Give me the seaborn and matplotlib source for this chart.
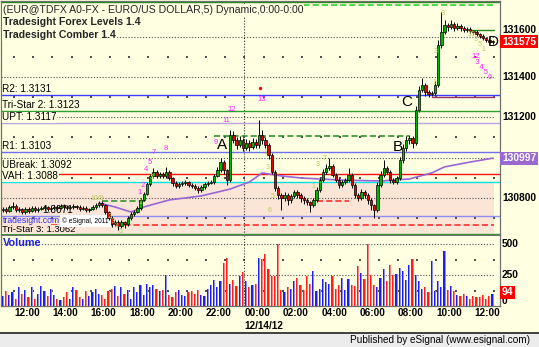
import numpy as np
import matplotlib
matplotlib.use("Agg")
import matplotlib.pyplot as plt
import seaborn as sns
from matplotlib.transforms import blended_transform_factory as btf

# ---------------- data (10-minute bars, prices in points) ----------------
closes = [
    130745, 130735, 130755, 130760, 130740, 130745, 130730, 130745, 130735, 130750,
    130740, 130745, 130750, 130755, 130745, 130750, 130755, 130750, 130760, 130755,
    130750, 130755, 130760, 130755, 130745, 130750, 130740, 130745, 130755, 130765,
    130775, 130765, 130730, 130700, 130671, 130681, 130661, 130681, 130671, 130700,
    130720, 130730, 130750, 130790, 130820, 130869, 130909, 130929, 130909, 130919,
    130909, 130929, 130899, 130874, 130859, 130869, 130874, 130879, 130864, 130859,
    130849, 130840, 130854, 130869, 130874, 130879, 130909, 130939, 130978, 130939,
    130889, 131112, 131088, 131063, 131088, 131048, 131073, 131053, 131078, 131063,
    131112, 131088, 131063, 131013, 130929, 130849, 130815, 130800, 130815, 130790,
    130810, 130830, 130815, 130800, 130790, 130780, 130765, 130790, 130840, 130889,
    130929, 130949, 130959, 130914, 130889, 130864, 130879, 130889, 130914, 130864,
    130815, 130800, 130830, 130815, 130790, 130765, 130740, 130864, 130914, 130949,
    130929, 130889, 130879, 130899, 130988, 131048, 131088, 131097, 131073, 131236,
    131336, 131360, 131326, 131316, 131321, 131360, 131559, 131623, 131658, 131648,
    131663, 131643, 131653, 131643, 131633, 131638, 131628, 131623, 131613, 131603,
    131593, 131583, 131574, 131575,
]
first_open = 130740
wick_up = [
    10, 8, 12, 20, 8, 10, 6, 10, 8, 12,
    8, 10, 8, 10, 6, 8, 10, 8, 10, 8,
    8, 10, 8, 6, 8, 10, 8, 6, 10, 12,
    10, 8, 6, 6, 10, 8, 10, 8, 6, 8,
    8, 10, 10, 12, 10, 8, 10, 20, 10, 8,
    10, 25, 8, 6, 8, 10, 8, 10, 6, 8,
    8, 10, 8, 12, 10, 8, 10, 12, 20, 10,
    6, 25, 20, 15, 20, 10, 20, 15, 20, 15,
    75, 25, 15, 10, 10, 8, 8, 10, 12, 8,
    10, 10, 8, 10, 8, 8, 6, 10, 12, 10,
    12, 20, 40, 10, 8, 8, 10, 12, 35, 10,
    8, 10, 12, 10, 8, 8, 6, 15, 20, 40,
    10, 8, 10, 12, 15, 20, 20, 15, 10, 20,
    20, 35, 10, 8, 10, 20, 25, 100, 25, 10,
    20, 10, 15, 10, 10, 8, 8, 6, 8, 6,
    8, 6, 10, 8,
]
wick_dn = [
    8, 10, 6, 10, 8, 12, 10, 8, 10, 6,
    10, 8, 6, 8, 10, 8, 6, 8, 6, 8,
    8, 6, 8, 10, 8, 6, 12, 8, 6, 8,
    8, 10, 10, 12, 15, 10, 20, 12, 20, 10,
    10, 8, 6, 8, 6, 8, 10, 8, 10, 8,
    10, 8, 10, 15, 10, 8, 10, 8, 10, 8,
    10, 15, 10, 8, 8, 6, 8, 6, 10, 20,
    25, 10, 15, 20, 12, 15, 10, 20, 10, 15,
    15, 20, 15, 20, 10, 15, 20, 60, 15, 25,
    15, 10, 15, 20, 20, 15, 35, 10, 8, 10,
    8, 10, 10, 10, 12, 15, 10, 12, 10, 15,
    15, 15, 10, 15, 20, 25, 40, 10, 8, 10,
    10, 15, 10, 8, 10, 15, 15, 20, 25, 10,
    10, 10, 20, 15, 10, 8, 10, 15, 10, 20,
    10, 15, 10, 15, 10, 10, 10, 8, 10, 8,
    8, 10, 10, 8,
]
volume = [
    80, 120, 90, 110, 60, 150, 100, 130, 70, 150,
    60, 100, 160, 120, 80, 140, 90, 60, 50, 70,
    110, 60, 150, 130, 70, 60, 120, 80, 110, 140,
    100, 90, 60, 120, 140, 160, 80, 150, 100, 130,
    60, 150, 110, 170, 90, 180, 150, 170, 140, 120,
    130, 250, 90, 70, 110, 130, 90, 80, 110, 120,
    100, 130, 90, 80, 140, 170, 210, 150, 200, 345,
    385, 180, 210, 160, 240, 275, 200, 150, 170, 180,
    390, 380, 420, 300, 240, 240, 500, 130, 110, 150,
    140, 200, 230, 170, 130, 240, 180, 280, 120, 140,
    220, 190, 180, 240, 140, 170, 230, 130, 220, 170,
    160, 320, 270, 220, 500, 250, 170, 150, 230, 300,
    200, 330, 250, 260, 310, 280, 210, 330, 380, 250,
    200, 140, 150, 110, 360, 120, 200, 150, 440, 130,
    160, 120, 90, 80, 100, 80, 60, 80, 70, 70,
    90, 60, 80, 94,
]
ma_idx = [30, 35, 40, 44, 52, 62, 71, 77, 81, 87, 93, 105, 118, 127, 134, 138, 146, 153]
ma_val = [130775, 130755, 130730, 130755, 130790, 130810, 130844, 130879, 130924,
          130909, 130899, 130889, 130884, 130894, 130924, 130954, 130978, 130997]

tick_labels = ["12:00", "14:00", "16:00", "18:00", "20:00", "22:00", "00:00",
               "02:00", "04:00", "06:00", "08:00", "10:00", "12:00"]
date_label = "12/14/12"
price_ticks = [131600, 131400, 131200, 131000, 130800]
price_minor = [131500, 131300, 131100, 130900, 130700]
vol_ticks = [500, 250]
vol_minor = [375, 125]
last_price = 131575
last_ma = 130997
last_vol = 94

# level lines: label, value, colour
levels = [
    ("R2: 1.3131", 131310, "#3C3CFF"),
    ("Tri-Star 2: 1.3123", 131230, "#2E9E2E"),
    ("UPT: 1.3117", 131170, "#B7A3E6"),
    ("R1: 1.3103", 131030, "#7070F0"),
    ("UBreak: 1.3092", 130920, "#FF1010"),
    ("VAH: 1.3088", 130880, "#00E3E3"),
    ("1.3071", 130711, "#8C8CF2"),
    ("Tri-Star 3: 1.3062", 130620, "#2E9E2E"),
]
vah = 130880

magenta_txt = ["13", "12", "11", "9", "8", "7", "5", "4", "2", "1",
               "12\n  3\n    4\n      5\n        6"]
magenta_i = [80.9, 71.6, 69.7, 66.6, 50.9, 47.2, 45.9, 44.7, 43.8, 42.8, 146.3]
magenta_p = [131286, 131241, 131182, 131073, 131043, 131023, 130978, 130939, 130864, 130825,
             131517]
olive_txt = ["10/9", "2\n  3\n    4\n      5", "1", "3", "1", "3", "5", "6", "1", "3", "7",
             "1", "3", "3", "13\n   3\n     5\n       1"]
olive_i = [29.4, 32.6, 42.8, 46.6, 81.9, 82.8, 84.4, 83.4, 96.9, 98.4, 100.6,
           134.7, 135.3, 137.5, 145.3]
olive_p = [130795, 130727, 130775, 130899, 131023, 130949, 130805, 130740,
           130859, 130964, 130998, 131375, 131524, 131717, 131630]
letters = ["A", "B", "C", "D"]
letter_i = [68.4, 123.4, 126.2, 153.2]
letter_p = [131063, 131053, 131276, 131574]

# ---------------- style ----------------
sns.set_style("white")
plt.rcParams["font.family"] = ["Liberation Sans", "DejaVu Sans"]

W, H, DPI = 539, 347, 100
BG = "#FFFFE1"
PINK = "#FBE5D6"
GRID = "#505050"

def fx(px):
    return px / W

def fy(py):
    return 1 - py / H

fig = plt.figure(figsize=(W / DPI, H / DPI), dpi=DPI, facecolor=BG)

# price panel: px x 1..500, y 1..235
ax = fig.add_axes([fx(1), fy(235), 499 / W, 234 / H], facecolor=BG)
XMIN, XMAX = (1 - 3) / 3.2, (500 - 3) / 3.2
ax.set_xlim(XMIN, XMAX)
ax.set_ylim(130616, 131777)

n = len(closes)
x = np.arange(n)
opens = [first_open] + closes[:-1]
highs = [max(o, c) + u for o, c, u in zip(opens, closes, wick_up)]
lows = [min(o, c) - d for o, c, d in zip(opens, closes, wick_dn)]
xend = n - 0.5

# pink value area below VAH
ax.fill_between([XMIN, xend], [vah, vah], [130500, 130500], color=PINK, zorder=0, lw=0)

# time geometry
NOON_IDX = 3.44
tick_pos = [NOON_IDX + 12 * k for k in range(len(tick_labels))]
hour_pos = [NOON_IDX + 6 * k for k in range(26)]
day_pos = NOON_IDX + 72

# gridlines
for p in price_ticks:
    ax.plot([XMIN, xend], [p, p], color=GRID, lw=0.8, ls=(0, (1, 1.6)), zorder=1)
for p in price_minor:
    ax.scatter(hour_pos, [p] * len(hour_pos), s=0.8, color=GRID, marker="s", lw=0, zorder=1)
ax.axvline(day_pos, color="#303030", lw=0.8, ls=(0, (1, 1.6)), zorder=1)

# level lines
for lab, val, col in levels:
    ax.plot([XMIN, XMAX], [val, val], color=col, lw=1.0, zorder=2)
# extra dashed / short lines
ax.plot([XMIN, xend], [131757, 131757], color="#22CC22", lw=1.1, ls=(0, (4, 2)), zorder=2)
ax.plot([XMIN, XMAX], [131772, 131772], color="#1E8A1E", lw=1.0, zorder=2)
ax.plot([66, 127], [131107, 131107], color="#1E8A1E", lw=1.1, ls=(0, (4, 2)), zorder=2)
ax.plot([31, 45], [130785, 130785], color="#1E8A1E", lw=1.1, ls=(0, (4, 2)), zorder=2)
ax.plot([98, 108], [130785, 130785], color="#FF2020", lw=1.1, ls=(0, (4, 2)), zorder=2)
ax.plot([15, xend], [130666, 130666], color="#FF2020", lw=1.1, ls=(0, (4, 2)), zorder=2)
ax.plot([134, xend], [131301, 131301], color="#A0306A", lw=1.0, zorder=2)
ax.plot([146, xend], [131633, 131633], color="#1E8A1E", lw=1.0, zorder=2)

# moving average
sns.lineplot(x=ma_idx, y=ma_val, ax=ax, color="#9966D6", lw=1.2, zorder=3)

# level labels (opaque, above lines)
tr_lbl = btf(ax.transAxes, ax.transData)
label_off = {"UBreak: 1.3092": 20, "VAH: 1.3088": 2, "Tri-Star 3: 1.3062": 1}
for lab, val, col in levels:
    xa = 0.003 if lab != "1.3071" else (42 - 1) / 499
    bg = PINK if val < vah else BG
    fs = 6.8 if lab == "Tri-Star 3: 1.3062" else 7.2
    ax.text(xa, val + label_off.get(lab, 5), lab, transform=tr_lbl, fontsize=fs,
            va="bottom", ha="left", color="black", zorder=4,
            bbox=dict(boxstyle="square,pad=0.02", fc=bg, ec="none"))
ax.text(0.003, 130709, "tradesight.com", transform=tr_lbl, fontsize=6.2, va="top",
        ha="left", color="#2E2EF0", zorder=4)
ax.text((62 - 1) / 499, 130703, "\u00a9 eSignal, 2011", transform=tr_lbl, fontsize=4.8,
        va="top", ha="left", color="black", zorder=4,
        bbox=dict(boxstyle="square,pad=0.3", fc="white", ec="none"))

# candles
up = [c >= o for o, c in zip(opens, closes)]
ax.vlines(x, lows, highs, color="black", lw=0.7, zorder=5)
body_h = [max(abs(c - o), 3) for o, c in zip(opens, closes)]
body_b = [min(o, c) for o, c in zip(opens, closes)]
ax.bar(x, body_h, bottom=body_b, width=0.72,
       color=["#00B400" if u else "#E60000" for u in up],
       edgecolor="black", linewidth=0.5, zorder=6)

# counts / letters
for t, i, p in zip(magenta_txt, magenta_i, magenta_p):
    multi = "\n" in t
    ax.text(i, p, t, fontsize=5.5, color="#FF22FF", ha="left" if multi else "center",
            va="top" if multi else "center", linespacing=0.62, zorder=7, clip_on=False)
for t, i, p in zip(olive_txt, olive_i, olive_p):
    multi = "\n" in t
    ax.text(i, p, t, fontsize=5.0, color="#B9C95A", ha="left" if multi else "center",
            va="top" if multi else "center", linespacing=0.6, zorder=7, clip_on=False)
ax.scatter([80.3], [131345], s=6, color="#FF0000", zorder=7, lw=0)
for t, i, p in zip(letters, letter_i, letter_p):
    ax.text(i, p, t, fontsize=11, color="black", ha="center", va="center", zorder=8,
            clip_on=False)

for s in ax.spines.values():
    s.set_color("#707070")
    s.set_linewidth(0.9)
ax.set_xticks([])
ax.set_yticks([])
ax.set_xlabel("")
ax.set_ylabel("")

# right-hand price labels
tr_r = btf(fig.transFigure, ax.transData)
for p in price_ticks:
    if p == 131000:
        continue
    if p == 131600:
        ax.text(fx(502), p + 8, f"{p}", transform=tr_r, fontsize=7.4, fontweight="bold",
                ha="left", va="bottom", color="black", clip_on=False)
        continue
    ax.text(fx(502), p, f"{p}", transform=tr_r, fontsize=7.4, fontweight="bold",
            ha="left", va="center", color="black", clip_on=False)
ax.text(fx(502), last_price, f"{last_price}", transform=tr_r, fontsize=7.4, fontweight="bold",
        ha="left", va="center", color="white", clip_on=False,
        bbox=dict(boxstyle="square,pad=0.15", fc="#FF0000", ec="none"))
ax.text(fx(502), last_ma, f"{last_ma}", transform=tr_r, fontsize=7.4, fontweight="bold",
        ha="left", va="center", color="white", clip_on=False,
        bbox=dict(boxstyle="square,pad=0.15", fc="#9A6ACF", ec="none"))

# title texts
tb = dict(boxstyle="square,pad=0.05", fc=BG, ec="none")
fig.text(fx(3), fy(10), "(EUR@TDFX A0-FX - EURO/US DOLLAR,5) Dynamic,0:00-0:00",
         fontsize=7.6, ha="left", va="center", bbox=tb)
fig.text(fx(3), fy(22), "Tradesight Forex Levels 1.4", fontsize=7.6, fontweight="bold",
         ha="left", va="center", bbox=tb)
fig.text(fx(3), fy(35), "Tradesight Comber 1.4", fontsize=7.6, fontweight="bold",
         ha="left", va="center", bbox=tb)

# ---------------- volume panel: px y 236..306 ----------------
axv = fig.add_axes([fx(1), fy(306), 499 / W, 70 / H], facecolor=BG)
axv.set_xlim(XMIN, XMAX)
axv.set_ylim(0, 565)
for v in vol_ticks:
    axv.plot([XMIN, xend], [v, v], color=GRID, lw=0.8, ls=(0, (1, 1.6)), zorder=1)
for v in vol_minor:
    axv.scatter(hour_pos, [v] * len(hour_pos), s=0.8, color=GRID, marker="s", lw=0, zorder=1)
axv.axvline(day_pos, color="#303030", lw=0.8, ls=(0, (1, 1.6)), zorder=1)
dark = ["#1E1EF0" if u else "#FF1E1E" for u in up]
light = ["#8C8CF5" if u else "#FF8080" for u in up]
axv.bar(x - 0.2, volume, width=0.36, color=dark, lw=0, zorder=3)
axv.bar(x + 0.16, volume, width=0.36, color=light, lw=0, zorder=3)
axv.spines["top"].set_visible(False)
for s in ["left", "right", "bottom"]:
    axv.spines[s].set_color("#707070")
    axv.spines[s].set_linewidth(0.9)
axv.set_xticks([])
axv.set_yticks([])
axv.text(0.004, 545, "Volume", transform=btf(axv.transAxes, axv.transData), fontsize=7.8,
         fontweight="bold", color="#2020E0", ha="left", va="top")

tr_rv = btf(fig.transFigure, axv.transData)
for v in vol_ticks:
    axv.text(fx(502), v, f"{v}", transform=tr_rv, fontsize=7.4, fontweight="bold",
             ha="left", va="center", color="black", clip_on=False)
axv.text(fx(502), 0, "0", transform=tr_rv, fontsize=7.4, fontweight="bold",
         ha="left", va="bottom", color="black", clip_on=False)
axv.text(fx(502), last_vol + 15, f"{last_vol}", transform=tr_rv, fontsize=7.4,
         fontweight="bold", ha="left", va="center", color="white", clip_on=False,
         bbox=dict(boxstyle="square,pad=0.15", fc="#FF0000", ec="none"))

# time labels (left-aligned at tick)
tr_x = btf(axv.transData, fig.transFigure)
for pos, lab in zip(tick_pos, tick_labels):
    axv.text(pos, fy(313), lab, transform=tr_x, fontsize=7.2, fontweight="bold",
             ha="left", va="center", color="black", clip_on=False)
axv.text(day_pos, fy(326), date_label, transform=tr_x, fontsize=7.2, fontweight="bold",
         ha="left", va="center", color="black", clip_on=False)

# status bar
axs = fig.add_axes([0, 0, 1, 14 / H], facecolor="#ECECEC")
axs.set_xticks([])
axs.set_yticks([])
for s in ["left", "right", "bottom"]:
    axs.spines[s].set_visible(False)
axs.spines["top"].set_color("#202020")
axs.spines["top"].set_linewidth(1.2)
fig.text(fx(530), fy(340), "Published by eSignal (www.esignal.com)", fontsize=7.2,
         ha="right", va="center", color="black")

fig.savefig("out.png", dpi=DPI, facecolor=BG)
